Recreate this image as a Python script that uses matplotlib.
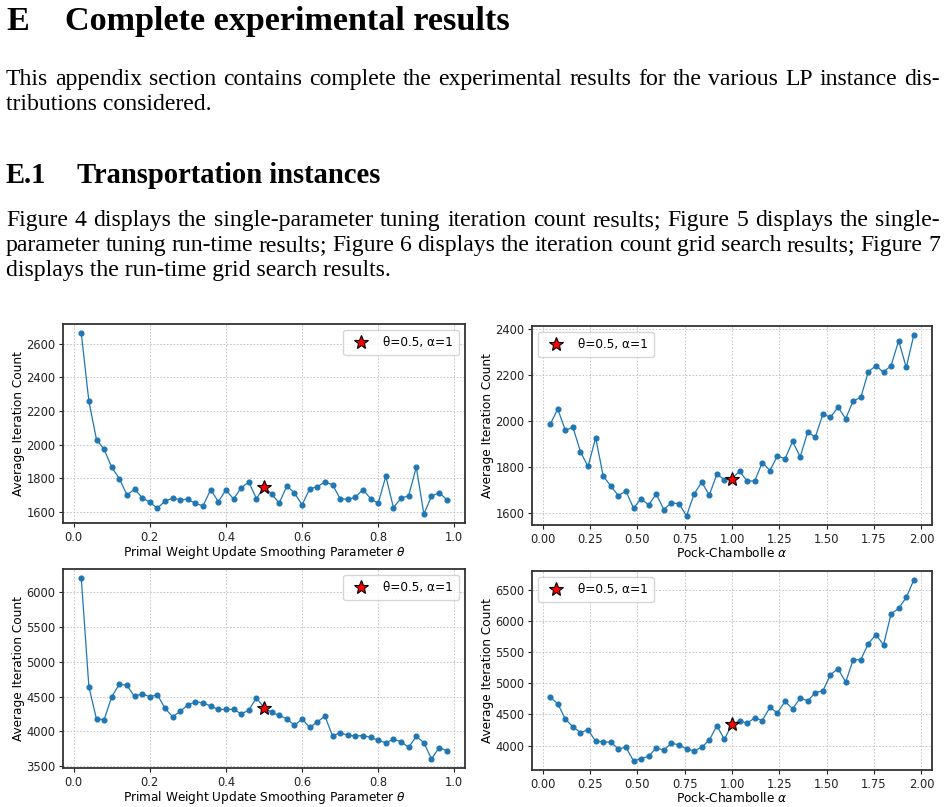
import matplotlib
matplotlib.use("Agg")
import matplotlib.pyplot as plt

# x grids of the two swept parameters
theta = [0.02, 0.04, 0.06, 0.08, 0.10, 0.12, 0.14, 0.16, 0.18, 0.20,
         0.22, 0.24, 0.26, 0.28, 0.30, 0.32, 0.34, 0.36, 0.38, 0.40,
         0.42, 0.44, 0.46, 0.48, 0.50, 0.52, 0.54, 0.56, 0.58, 0.60,
         0.62, 0.64, 0.66, 0.68, 0.70, 0.72, 0.74, 0.76, 0.78, 0.80,
         0.82, 0.84, 0.86, 0.88, 0.90, 0.92, 0.94, 0.96, 0.98]
alpha = [0.04, 0.08, 0.12, 0.16, 0.20, 0.24, 0.28, 0.32, 0.36, 0.40,
         0.44, 0.48, 0.52, 0.56, 0.60, 0.64, 0.68, 0.72, 0.76, 0.80,
         0.84, 0.88, 0.92, 0.96, 1.00, 1.04, 1.08, 1.12, 1.16, 1.20,
         1.24, 1.28, 1.32, 1.36, 1.40, 1.44, 1.48, 1.52, 1.56, 1.60,
         1.64, 1.68, 1.72, 1.76, 1.80, 1.84, 1.88, 1.92, 1.96]

# top row
iters_theta_top = [2663, 2257, 2030, 1972, 1865, 1798, 1701, 1735, 1685, 1657,
                   1622, 1665, 1681, 1673, 1675, 1651, 1636, 1733, 1661, 1731,
                   1677, 1743, 1778, 1679, 1748, 1707, 1653, 1754, 1713, 1642,
                   1737, 1750, 1778, 1762, 1679, 1675, 1687, 1733, 1679, 1651,
                   1812, 1626, 1681, 1697, 1865, 1588, 1693, 1715, 1673]
iters_alpha_top = [1984, 2052, 1958, 1972, 1865, 1801, 1926, 1760, 1715, 1674,
                   1693, 1619, 1660, 1633, 1681, 1613, 1642, 1639, 1585, 1681,
                   1732, 1676, 1767, 1743, 1748, 1780, 1737, 1738, 1818, 1783,
                   1847, 1834, 1910, 1843, 1951, 1929, 2029, 2015, 2060, 2009,
                   2087, 2102, 2214, 2240, 2212, 2241, 2349, 2233, 2374]

# bottom row
iters_theta_bot = [6206, 4642, 4179, 4169, 4499, 4681, 4662, 4504, 4542, 4499,
                   4528, 4332, 4212, 4289, 4384, 4423, 4413, 4365, 4317, 4317,
                   4317, 4255, 4303, 4485, 4342, 4274, 4231, 4184, 4088, 4179,
                   4059, 4136, 4222, 3935, 3983, 3945, 3935, 3940, 3916, 3873,
                   3839, 3887, 3854, 3772, 3930, 3839, 3605, 3768, 3725]
iters_alpha_bot = [4773, 4671, 4424, 4300, 4209, 4252, 4070, 4059, 4054, 3946,
                   3973, 3753, 3791, 3828, 3962, 3925, 4038, 4011, 3946, 3914,
                   3973, 4086, 4317, 4102, 4342, 4397, 4359, 4445, 4402, 4612,
                   4526, 4708, 4590, 4762, 4719, 4848, 4880, 5137, 5234, 5019,
                   5379, 5379, 5636, 5781, 5615, 6114, 6200, 6377, 6656]

yticks_theta_top = [1600, 1800, 2000, 2200, 2400, 2600]
yticks_alpha_top = [1600, 1800, 2000, 2200, 2400]
yticks_theta_bot = [3500, 4000, 4500, 5000, 5500, 6000]
yticks_alpha_bot = [4000, 4500, 5000, 5500, 6000, 6500]

best_theta = 0.5
best_alpha = 1.0
legend_label = "θ=0.5, α=1"

W, H = 948, 807
fig = plt.figure(figsize=(W / 100, H / 100), dpi=100)
serif = "Liberation Serif"


def fx(px):
    return px / W


def fy(py):
    return 1 - py / H


renderer = fig.canvas.get_renderer()


def justified(line, y, size, x0=6, x1=940):
    words = line.split(" ")
    texts = [fig.text(0, fy(y), w, fontsize=size, family=serif, va="baseline")
             for w in words]
    widths = [t.get_window_extent(renderer).width for t in texts]
    gap = (x1 - x0 - sum(widths)) / (len(words) - 1)
    x = x0
    for t, w in zip(texts, widths):
        t.set_x(fx(x))
        x += w + gap


# page text
head = 24.6
fig.text(fx(6), fy(30), "E", fontsize=head, weight="bold", family=serif, va="baseline")
fig.text(fx(65), fy(30), "Complete experimental results", fontsize=head, weight="bold",
         family=serif, va="baseline")
body = 17.1
justified("This appendix section contains complete the experimental results for the "
          "various LP instance dis-", 85, body)
fig.text(fx(6), fy(110), "tributions considered.", fontsize=body, family=serif, va="baseline")
sub = 20.6
fig.text(fx(6), fy(183), "E.1", fontsize=sub, weight="bold", family=serif, va="baseline")
fig.text(fx(77), fy(183), "Transportation instances", fontsize=sub, weight="bold",
         family=serif, va="baseline")
justified("Figure 4 displays the single-parameter tuning iteration count results; "
          "Figure 5 displays the single-", 226, body)
justified("parameter tuning run-time results; Figure 6 displays the iteration count "
          "grid search results; Figure 7", 251, body)
fig.text(fx(6), fy(276), "displays the run-time grid search results.", fontsize=body,
         family=serif, va="baseline")

# charts: (left, top, right, bottom) in pixels
theta_label = r"Primal Weight Update Smoothing Parameter $\theta$"
alpha_label = r"Pock-Chambolle $\alpha$"
panels = [
    ((63, 324, 465, 523), theta, iters_theta_top, best_theta, yticks_theta_top,
     theta_label, "upper right"),
    ((532, 326, 932, 525), alpha, iters_alpha_top, best_alpha, yticks_alpha_top,
     alpha_label, "upper left"),
    ((63, 569, 465, 768), theta, iters_theta_bot, best_theta, yticks_theta_bot,
     theta_label, "upper right"),
    ((532, 571, 932, 770), alpha, iters_alpha_bot, best_alpha, yticks_alpha_bot,
     alpha_label, "upper left"),
]

for (l, t, r, b), xs, ys, best, yticks, xlabel, loc in panels:
    ax = fig.add_axes([fx(l), fy(b), (r - l) / W, (b - t) / H])
    ax.plot(xs, ys, "-o", color="#1f77b4", lw=0.9, ms=3.4)
    i = xs.index(best)
    ax.plot(xs[i], ys[i], "*", color="red", mec="black", mew=0.8, ms=10,
            linestyle="none", label=legend_label)
    ax.set_yticks(yticks)
    ax.grid(True, linestyle=(0, (2, 2)), color="#bdbdbd", linewidth=0.6)
    ax.set_axisbelow(True)
    for s in ax.spines.values():
        s.set_color("#333333")
        s.set_linewidth(1.3)
    ax.tick_params(labelsize=8.3, length=3, width=0.8, colors="#222222", pad=2.5)
    ax.set_xlabel(xlabel, fontsize=8.7, labelpad=0.5)
    ax.set_ylabel("Average Iteration Count", fontsize=8.7, labelpad=1)
    ax.legend(loc=loc, fontsize=8.7, framealpha=0.8, borderpad=0.5)

fig.savefig("out.png", dpi=100)
